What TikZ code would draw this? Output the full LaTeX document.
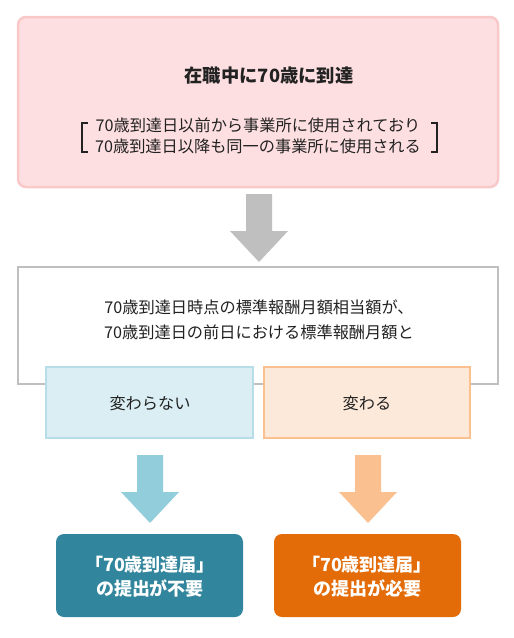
\documentclass[tikz,border=0pt]{standalone}
\usepackage{fontspec}
\setmainfont{Noto Sans CJK JP}
\definecolor{pinkF}{HTML}{FEDFE1}
\definecolor{pinkB}{HTML}{F9C8C8}
\definecolor{grayB}{HTML}{BFBFBF}
\definecolor{blueF}{HTML}{DAEEF3}
\definecolor{blueB}{HTML}{B7DEE8}
\definecolor{oranF}{HTML}{FDE9D9}
\definecolor{oranB}{HTML}{FAC090}
\definecolor{blueA}{HTML}{92CDDC}
\definecolor{oranA}{HTML}{FAC090}
\definecolor{tealD}{HTML}{31859C}
\definecolor{oranD}{HTML}{E36C09}
\definecolor{txt}{HTML}{222222}
\tikzset{
  boxbase/.style={inner sep=0pt, outer sep=0pt, anchor=north west},
  bodytext/.style={text=txt, align=center, inner sep=0pt, font=\fontsize{16.2pt}{25pt}\selectfont},
  resulttext/.style={text=white, align=center, inner sep=0pt, font=\bfseries\fontsize{18pt}{24pt}\selectfont},
}
\begin{document}
\begin{tikzpicture}[x=1pt,y=-1pt]
\useasboundingbox (0,0) rectangle (514,638);
\fill[white] (0,0) rectangle (514,638);
% top box
\draw[draw=pinkB, fill=pinkF, line width=2.5pt, rounded corners=8pt] (18,17) rectangle (498,187);
\coordinate (topbox) at (258,102);
\node[text=txt, inner sep=0pt, font=\bfseries\fontsize{18.3pt}{20pt}\selectfont] (title) at (269,76) {在職中に70歳に到達};
\node[bodytext, font=\fontsize{16.2pt}{21.5pt}\selectfont] (cond) at (258,136) {70歳到達日以前から事業所に使用されており\\70歳到達日以降も同一の事業所に使用される};
\draw[txt, line width=1.3pt] (88,123) -- (82,123) -- (82,152) -- (88,152);
\draw[txt, line width=1.3pt] (431,123) -- (437,123) -- (437,152) -- (431,152);
% gray arrow
\fill[grayB] (246,194) -- (272,194) -- (272,231) -- (288,231) -- (259,262) -- (230,231) -- (246,231) -- cycle;
% gray box
\draw[grayB, line width=2.5pt] (18,267) rectangle (498,384);
\node[bodytext] (question) at (259,320) {70歳到達日時点の標準報酬月額相当額が、\\70歳到達日の前日における標準報酬月額と};
% choice boxes
\draw[draw=blueB, fill=blueF, line width=2.5pt] (46,367) rectangle (253,438);
\node[bodytext] (same) at (150,403) {変わらない};
\draw[draw=oranB, fill=oranF, line width=2.5pt] (264,367) rectangle (470,438);
\node[bodytext] (diff) at (367,403) {変わる};
% coloured arrows
\fill[blueA] (137,455) -- (163,455) -- (163,492) -- (179,492) -- (150,523) -- (121,492) -- (137,492) -- cycle;
\fill[oranA] (355,455) -- (381,455) -- (381,492) -- (397,492) -- (368,523) -- (339,492) -- (355,492) -- cycle;
% result boxes
\fill[tealD, rounded corners=8pt] (56,534) rectangle (243,617);
\node[resulttext] (noneed) at (150,577) {「70歳到達届」\\の提出が不要};
\fill[oranD, rounded corners=8pt] (274,534) rectangle (461,617);
\node[resulttext] (need) at (367,577) {「70歳到達届」\\の提出が必要};
\end{tikzpicture}
\end{document}
